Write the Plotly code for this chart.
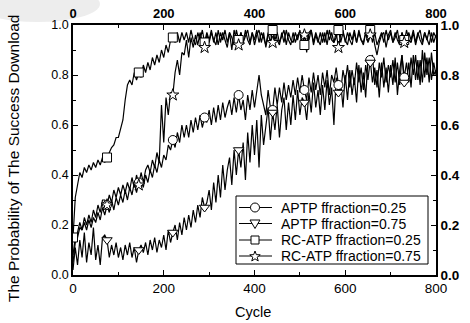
import math
import plotly.graph_objects as go

cycles = list(range(0, 801, 5))

rc_atp_025 = [
    0.15, 0.31, 0.36, 0.41, 0.39, 0.43, 0.41, 0.44, 0.42, 0.45,
    0.43, 0.46, 0.44, 0.47, 0.45, 0.47, 0.49, 0.51, 0.52, 0.55,
    0.55, 0.59, 0.62, 0.70, 0.76, 0.78, 0.76, 0.81, 0.78, 0.81,
    0.79, 0.84, 0.81, 0.85, 0.82, 0.87, 0.84, 0.88, 0.85, 0.90,
    0.87, 0.92, 0.89, 0.94, 0.95, 0.93, 0.97, 0.93, 0.97, 0.94,
    0.97, 0.93, 0.98, 0.94, 0.92, 0.97, 0.94, 0.98, 0.93, 0.97,
    0.94, 0.98, 0.93, 0.97, 0.92, 0.97, 0.94, 0.98, 0.93, 0.97,
    0.95, 0.92, 0.98, 0.94, 0.97, 0.93, 0.98, 0.94, 0.92, 0.97,
    0.94, 0.98, 0.93, 0.97, 0.95, 0.92, 0.97, 0.93, 0.98, 0.94,
    0.97, 0.93, 0.96, 0.98, 0.92, 0.97, 0.94, 0.93, 0.97, 0.94,
    0.98, 0.93, 0.92, 0.97, 0.94, 0.98, 0.93, 0.97, 0.94, 0.92,
    0.97, 0.93, 0.98, 0.94, 0.97, 0.93, 0.95, 0.98, 0.93, 0.97,
    0.94, 0.92, 0.97, 0.94, 0.98, 0.93, 0.97, 0.94, 0.93, 0.97,
    0.94, 0.98, 0.93, 0.97, 0.92, 0.95, 0.97, 0.93, 0.98, 0.94,
    0.97, 0.93, 0.95, 0.98, 0.92, 0.97, 0.94, 0.93, 0.97, 0.94,
    0.98, 0.93, 0.97, 0.94, 0.92, 0.97, 0.94, 0.98, 0.93, 0.97,
    0.95,
]

rc_atp_075 = [
    0.08, 0.15, 0.17, 0.21, 0.18, 0.23, 0.20, 0.24, 0.21, 0.26,
    0.23, 0.28, 0.25, 0.30, 0.30, 0.28, 0.32, 0.29, 0.34, 0.31,
    0.35, 0.32, 0.36, 0.33, 0.37, 0.34, 0.39, 0.35, 0.40, 0.36,
    0.41, 0.37, 0.42, 0.44, 0.41, 0.46, 0.43, 0.49, 0.45, 0.68,
    0.53, 0.71, 0.64, 0.73, 0.72, 0.81, 0.86, 0.80, 0.89, 0.88,
    0.94, 0.87, 0.95, 0.91, 0.96, 0.92, 0.97, 0.93, 0.91, 0.96,
    0.93, 0.97, 0.94, 0.92, 0.98, 0.93, 0.97, 0.94, 0.91, 0.97,
    0.90, 0.98, 0.94, 0.92, 0.97, 0.93, 0.96, 0.98, 0.93, 0.97,
    0.92, 0.96, 0.98, 0.93, 0.97, 0.91, 0.96, 0.97, 0.93, 0.98,
    0.94, 0.92, 0.97, 0.93, 0.98, 0.94, 0.92, 0.97, 0.93, 0.96,
    0.97, 0.92, 0.96, 0.89, 0.97, 0.98, 0.92, 0.96, 0.93, 0.97,
    0.93, 0.97, 0.92, 0.98, 0.94, 0.93, 0.97, 0.91, 0.96, 0.98,
    0.93, 0.97, 0.94, 0.92, 0.97, 0.93, 0.98, 0.94, 0.92, 0.97,
    0.93, 0.96, 0.98, 0.92, 0.88, 0.93, 0.96, 0.97, 0.91, 0.96,
    0.98, 0.93, 0.97, 0.94, 0.92, 0.97, 0.93, 0.98, 0.94, 0.93,
    0.97, 0.92, 0.96, 0.98, 0.93, 0.97, 0.94, 0.92, 0.97, 0.93,
    0.96,
]

aptp_025 = [
    0.05, 0.13, 0.15, 0.19, 0.18, 0.21, 0.18, 0.22, 0.19, 0.23,
    0.21, 0.25, 0.22, 0.27, 0.24, 0.28, 0.25, 0.30, 0.26, 0.31,
    0.28, 0.32, 0.29, 0.34, 0.30, 0.35, 0.32, 0.37, 0.33, 0.37,
    0.38, 0.35, 0.40, 0.37, 0.42, 0.39, 0.44, 0.41, 0.46, 0.43,
    0.48, 0.46, 0.52, 0.50, 0.54, 0.51, 0.57, 0.53, 0.60, 0.55,
    0.60, 0.55, 0.62, 0.57, 0.63, 0.58, 0.64, 0.59, 0.63, 0.61,
    0.66, 0.60, 0.67, 0.61, 0.68, 0.62, 0.69, 0.63, 0.67, 0.70,
    0.64, 0.71, 0.65, 0.72, 0.66, 0.70, 0.62, 0.72, 0.66, 0.74,
    0.67, 0.73, 0.80, 0.72, 0.68, 0.64, 0.74, 0.67, 0.66, 0.75,
    0.68, 0.75, 0.69, 0.77, 0.70, 0.76, 0.71, 0.78, 0.72, 0.79,
    0.73, 0.80, 0.74, 0.70, 0.79, 0.73, 0.81, 0.74, 0.80, 0.72,
    0.81, 0.75, 0.82, 0.72, 0.80, 0.77, 0.83, 0.76, 0.73, 0.82,
    0.77, 0.84, 0.75, 0.82, 0.76, 0.85, 0.77, 0.83, 0.74, 0.84,
    0.78, 0.86, 0.77, 0.83, 0.75, 0.85, 0.79, 0.87, 0.77, 0.84,
    0.79, 0.86, 0.77, 0.85, 0.76, 0.88, 0.79, 0.85, 0.77, 0.87,
    0.80, 0.88, 0.78, 0.86, 0.77, 0.89, 0.80, 0.87, 0.78, 0.85,
    0.80,
]

aptp_075 = [
    0.02, 0.11, 0.04, 0.14, 0.07, 0.17, 0.05, 0.13, 0.08, 0.19,
    0.06, 0.12, 0.04, 0.15, 0.16, 0.14, 0.07, 0.12, 0.08, 0.13,
    0.07, 0.11, 0.06, 0.12, 0.08, 0.13, 0.07, 0.11, 0.05, 0.10,
    0.12, 0.09, 0.13, 0.08, 0.14, 0.10, 0.15, 0.09, 0.14, 0.11,
    0.16, 0.10, 0.18, 0.13, 0.17, 0.20, 0.14, 0.21, 0.16, 0.23,
    0.18, 0.24, 0.19, 0.26, 0.21, 0.28, 0.23, 0.31, 0.27, 0.29,
    0.34, 0.26, 0.37, 0.29, 0.40, 0.31, 0.44, 0.34, 0.42, 0.47,
    0.36, 0.50, 0.40, 0.50, 0.43, 0.53, 0.38, 0.57, 0.45, 0.60,
    0.48, 0.62, 0.43, 0.64, 0.52, 0.60, 0.67, 0.54, 0.65, 0.58,
    0.68, 0.55, 0.66, 0.71, 0.58, 0.69, 0.60, 0.72, 0.62, 0.74,
    0.64, 0.71, 0.69, 0.62, 0.73, 0.65, 0.77, 0.67, 0.74, 0.64,
    0.76, 0.66, 0.78, 0.68, 0.75, 0.60, 0.79, 0.73, 0.77, 0.67,
    0.80, 0.70, 0.82, 0.72, 0.79, 0.69, 0.84, 0.73, 0.81, 0.71,
    0.86, 0.85, 0.88, 0.76, 0.82, 0.71, 0.85, 0.75, 0.83, 0.73,
    0.84, 0.76, 0.87, 0.72, 0.82, 0.88, 0.77, 0.77, 0.85, 0.75,
    0.88, 0.78, 0.86, 0.76, 0.90, 0.79, 0.87, 0.77, 0.89, 0.80,
    0.82,
]

series_names = ["APTP ffraction=0.25", "APTP ffraction=0.75",
                "RC-ATP ffraction=0.25", "RC-ATP ffraction=0.75"]
series_values = [aptp_025, aptp_075, rc_atp_025, rc_atp_075]
series_symbols = ["circle", "triangle-down", "square", "star"]
marker_cycles = [0, 75, 145, 220, 290, 365, 440, 510, 585, 655, 730]
marker_start = [1, 1, 0, 1]

y_ticks = [0.0, 0.2, 0.4, 0.6, 0.8, 1.0]
x_ticks = [0, 200, 400, 600, 800]

FONT = "Liberation Sans, Arial, sans-serif"

# plot area in pixels (for placing the hand-made legend box and titles)
L, R, T, B = 73, 436, 25, 275


def px_x(p):
    return (p - L) / (R - L)


def px_y(p):
    return (B - p) / (B - T)


fig = go.Figure()

for vals in series_values:
    fig.add_trace(go.Scatter(x=cycles, y=vals, mode="lines",
                             line=dict(color="black", width=1.2),
                             showlegend=False, hoverinfo="skip"))

for name, vals, sym, st in zip(series_names, series_values, series_symbols, marker_start):
    mx = marker_cycles[st:]
    my = [vals[cycles.index(c)] for c in mx]
    fig.add_trace(go.Scatter(x=mx, y=my, mode="markers", name=name,
                             marker=dict(symbol=sym, size=9, color="white",
                                         line=dict(color="black", width=1)),
                             showlegend=False))

fig.add_trace(go.Scatter(x=[None], y=[None], xaxis="x2", yaxis="y2", showlegend=False))

# ---- faint grey smudge of the scanned original (top-left corner) ----
shapes = [dict(type="circle", xref="paper", yref="paper", layer="below",
               x0=px_x(-25), x1=px_x(100), y0=px_y(22), y1=px_y(-14),
               line=dict(width=0), fillcolor="rgba(190,190,190,0.28)")]

# ---- hand-made legend (box, sample lines, symbols, labels) ----
annotations = []
box_l, box_r, box_t, box_b = 236, 428, 196, 264
shapes.append(dict(type="rect", xref="paper", yref="paper",
                   x0=px_x(box_l), x1=px_x(box_r), y0=px_y(box_b), y1=px_y(box_t),
                   line=dict(color="black", width=1), fillcolor="white"))
row_y = [207.5, 223.5, 240, 256]
cx = 255
for name, sym, ry in zip(series_names, series_symbols, row_y):
    shapes.append(dict(type="line", xref="paper", yref="paper",
                       x0=px_x(239), x1=px_x(272), y0=px_y(ry), y1=px_y(ry),
                       line=dict(color="black", width=1)))
    st = dict(xref="paper", yref="paper", line=dict(color="black", width=1),
              fillcolor="white")
    if sym == "circle":
        shapes.append(dict(type="circle", x0=px_x(cx - 4.5), x1=px_x(cx + 4.5),
                           y0=px_y(ry + 4.5), y1=px_y(ry - 4.5), **st))
    elif sym == "square":
        shapes.append(dict(type="rect", x0=px_x(cx - 4), x1=px_x(cx + 4),
                           y0=px_y(ry + 4), y1=px_y(ry - 4), **st))
    elif sym == "triangle-down":
        pts = [(cx - 5, ry - 3.5), (cx + 5, ry - 3.5), (cx, ry + 5)]
        path = "M " + " L ".join(f"{px_x(a):.5f},{px_y(b):.5f}" for a, b in pts) + " Z"
        shapes.append(dict(type="path", path=path, **st))
    else:
        pts = []
        for k in range(10):
            r = 5.5 if k % 2 == 0 else 2.3
            ang = -math.pi / 2 + k * math.pi / 5
            pts.append((cx + r * math.cos(ang), ry + 0.5 + r * math.sin(ang)))
        path = "M " + " L ".join(f"{px_x(a):.5f},{px_y(b):.5f}" for a, b in pts) + " Z"
        shapes.append(dict(type="path", path=path, **st))
    annotations.append(dict(text=name, xref="paper", yref="paper",
                            x=px_x(279), y=px_y(ry), xanchor="left", yanchor="middle",
                            showarrow=False, font=dict(size=14)))

annotations.append(dict(text="The Probability of The Success Download",
                        textangle=-90, xref="paper", yref="paper",
                        x=px_x(13), y=px_y(159), xanchor="center", yanchor="middle",
                        showarrow=False, font=dict(size=15.5)))
annotations.append(dict(text="Cycle", xref="paper", yref="paper",
                        x=px_x(253), y=px_y(312), xanchor="center", yanchor="middle",
                        showarrow=False, font=dict(size=14.5)))

axis_common = dict(showline=True, linecolor="black", linewidth=1.5,
                   ticks="inside", ticklen=5, tickwidth=1.2, tickcolor="black",
                   showgrid=False, zeroline=False, automargin=False)

fig.update_layout(
    width=470, height=323,
    margin=dict(l=L, r=470 - R, t=T, b=323 - B),
    paper_bgcolor="white", plot_bgcolor="white",
    font=dict(family=FONT, color="black", size=12),
    showlegend=False,
    xaxis=dict(range=[0, 800], tickvals=x_ticks, **axis_common,
               minor=dict(ticks="inside", ticklen=3, dtick=100, tickcolor="black"),
               tickfont=dict(size=13.5)),
    yaxis=dict(range=[0, 1], tickvals=y_ticks, tickformat=".1f", **axis_common,
               minor=dict(ticks="inside", ticklen=3, dtick=0.1, tickcolor="black"),
               tickfont=dict(size=12.5)),
    xaxis2=dict(range=[0, 800], tickvals=x_ticks, overlaying="x", side="top",
                **axis_common,
                minor=dict(ticks="inside", ticklen=3, dtick=100, tickcolor="black"),
                tickfont=dict(size=13, weight="bold")),
    yaxis2=dict(range=[0, 1], tickvals=y_ticks, tickformat=".1f", overlaying="y",
                side="right", **axis_common,
                minor=dict(ticks="inside", ticklen=3, dtick=0.1, tickcolor="black"),
                tickfont=dict(size=13.5, weight="bold")),
    shapes=shapes,
    annotations=annotations,
)

fig.write_html("out.html")
